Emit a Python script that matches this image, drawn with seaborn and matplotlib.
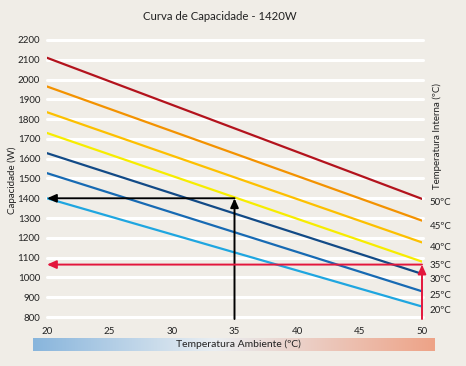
import numpy as np
import pandas as pd
import matplotlib
matplotlib.use("Agg")
import matplotlib.pyplot as plt
from matplotlib.colors import LinearSegmentedColormap
import seaborn as sns

# ---- data ----
amb_temp = [20, 50]
series_labels = ["50ºC", "45ºC", "40ºC", "35ºC", "30ºC", "25ºC", "20ºC"]
cap_at_20 = [2110, 1965, 1835, 1730, 1628, 1527, 1400]
cap_at_50 = [1397, 1287, 1177, 1080, 1018, 930, 853]
series_colors = ["#b3131d", "#f39200", "#fcc000", "#f7ec00", "#124a86", "#176ab3", "#1fa6e0"]
label_y = [1378, 1256, 1150, 1059, 992, 911, 835]
y_ticks = list(range(800, 2201, 100))
x_ticks = [20, 25, 30, 35, 40, 45, 50]
black_arrow_x = 35
black_arrow_y = 1400
red_arrow_x = 50
red_arrow_y = 1065

rows = []
for lab, a, b in zip(series_labels, cap_at_20, cap_at_50):
    rows.append({"amb": amb_temp[0], "cap": a, "serie": lab})
    rows.append({"amb": amb_temp[1], "cap": b, "serie": lab})
df = pd.DataFrame(rows)

bg = "#f0ede7"
sns.set_theme(style="white")
plt.rcParams['font.family'] = ['Lato', 'DejaVu Sans']

fig = plt.figure(figsize=(4.66, 3.66), dpi=100, facecolor=bg)
ax = fig.add_axes([47/466, 1-319/366, 375/466, 281/366])
ax.set_facecolor(bg)

ax.set_xlim(20, 50)
ax.set_ylim(790, 2210)
for yv in y_ticks:
    ax.axhline(yv, color="white", lw=2.2, zorder=1, xmax=1.003, clip_on=False)

sns.lineplot(data=df, x="amb", y="cap", hue="serie", palette=dict(zip(series_labels, series_colors)),
             lw=1.6, ax=ax, legend=False, zorder=3)

# arrows
ap = dict(arrowstyle="-|>,head_length=0.45,head_width=0.2", lw=1.4, shrinkA=0, shrinkB=0)
ax.annotate("", xy=(black_arrow_x, black_arrow_y), xytext=(black_arrow_x, 790),
            arrowprops=dict(color="black", **ap), zorder=5)
ax.annotate("", xy=(20, black_arrow_y), xytext=(black_arrow_x, black_arrow_y),
            arrowprops=dict(color="black", **ap), zorder=5)
ax.annotate("", xy=(red_arrow_x, red_arrow_y), xytext=(red_arrow_x, 790),
            arrowprops=dict(color="#e3163c", **ap), zorder=5)
ax.annotate("", xy=(20, red_arrow_y), xytext=(red_arrow_x, red_arrow_y),
            arrowprops=dict(color="#e3163c", **ap), zorder=5)

for s in ax.spines.values():
    s.set_visible(False)
ax.set_yticks(y_ticks)
ax.set_xticks(x_ticks)
ax.tick_params(axis="y", length=0, pad=5, labelsize=7, colors="#222222")
ax.tick_params(axis="x", length=0, pad=6, labelsize=7, colors="#222222")
ax.set_xlabel("")
ax.set_ylabel("")

for lab, yv in zip(series_labels, label_y):
    ax.text(50.6, yv, lab, fontsize=7, va="center", ha="left", color="#222222", clip_on=False)

fig.text(12/466, 1-180/366, "Capacidade (W)", rotation=90, ha="center", va="center", fontsize=7, color="#222222")
fig.text(437/466, 1-136/366, "Temperatura Interna (ºC)", rotation=90, ha="center", va="center", fontsize=7, color="#222222")
fig.text(220/466, 1-17/366, "Curva de Capacidade - 1420W", ha="center", va="center", fontsize=8.2, color="#222222")

# gradient bar
gax = fig.add_axes([33/466, 1-351/366, 402/466, 13/366])
cmap = LinearSegmentedColormap.from_list("g", [(0, "#88b5dc"), (0.45, "#e9eef2"), (1, "#eea387")])
gax.imshow(np.linspace(0, 1, 256).reshape(1, -1), aspect="auto", cmap=cmap, extent=[0, 1, 0, 1])
gax.set_axis_off()
gax.text(0.51, 0.5, "Temperatura Ambiente (ºC)", ha="center", va="center", fontsize=7.5, color="#222222",
         transform=gax.transAxes)

fig.savefig("out.png", dpi=100, facecolor=bg)
